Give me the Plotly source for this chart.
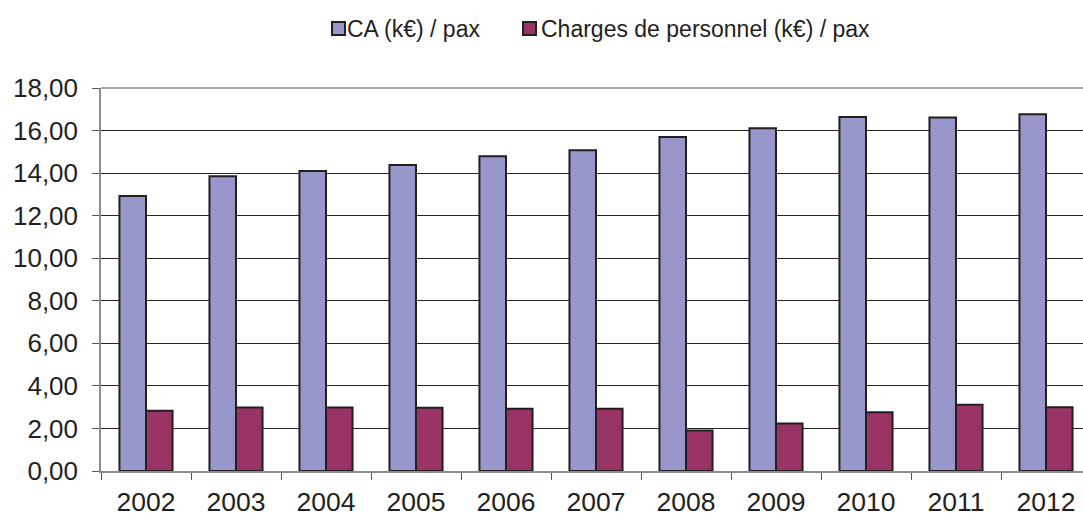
import plotly.graph_objects as go

years = ["2002", "2003", "2004", "2005", "2006", "2007", "2008", "2009", "2010", "2011", "2012"]
ca_per_pax = [12.93, 13.85, 14.10, 14.38, 14.79, 15.07, 15.70, 16.11, 16.64, 16.61, 16.77]
charges_per_pax = [2.83, 2.98, 2.98, 2.97, 2.92, 2.92, 1.90, 2.23, 2.76, 3.11, 3.00]
series_names = ["CA (k€) / pax", "Charges de personnel (k€) / pax"]
y_ticks = [0, 2, 4, 6, 8, 10, 12, 14, 16, 18]

W, H = 1083, 516
L, T, SB = 101, 88, 471
B = H - SB
plot_w = W - L
plot_h = SB - T
cat_px = 90.0

col_ca = "#9797CB"
col_ch = "#993366"
dark = "#231F20"
font = "Liberation Sans, Arial, sans-serif"

fig = go.Figure()
fig.add_trace(go.Bar(x=years, y=ca_per_pax, name=series_names[0],
                     marker=dict(color=col_ca, line=dict(color=dark, width=2))))
fig.add_trace(go.Bar(x=years, y=charges_per_pax, name=series_names[1],
                     marker=dict(color=col_ch, line=dict(color=dark, width=2))))

def px_x(p):
    return (p - L) / plot_w

def px_y(p):
    return (SB - p) / plot_h

shapes = []
annotations = []
# top border line at 18
shapes.append(dict(type="line", xref="paper", yref="paper", x0=0, x1=1, y0=1, y1=1,
                   line=dict(color="#A8A8A8", width=2), layer="above"))
# manual legend
legend_items = [(332, 345, col_ca, series_names[0]), (523, 539, col_ch, series_names[1])]
for sq_x, tx, col, name in legend_items:
    shapes.append(dict(type="rect", xref="paper", yref="paper",
                       x0=px_x(sq_x), x1=px_x(sq_x + 13), y0=px_y(35), y1=px_y(22),
                       fillcolor=col, line=dict(color=dark, width=2)))
    annotations.append(dict(text=name, xref="paper", yref="paper", x=px_x(tx), y=px_y(29),
                            xanchor="left", yanchor="middle", showarrow=False,
                            font=dict(family=font, size=23, color=dark)))

fig.update_layout(
    width=W, height=H,
    margin=dict(l=L, r=0, t=T, b=B, pad=0),
    paper_bgcolor="white", plot_bgcolor="white",
    barmode="group", bargap=0.41, bargroupgap=0,
    showlegend=False,
    separators=", ",
    shapes=shapes, annotations=annotations,
    font=dict(family=font, color=dark),
)
fig.update_xaxes(
    type="category",
    range=[-0.5, -0.5 + plot_w / cat_px],
    showline=True, linecolor="#8C8C8C", linewidth=1.5,
    ticks="outside", tickson="boundaries", ticklen=7, tickcolor="#555555", tickwidth=1,
    tickfont=dict(family=font, size=26.5, color=dark),
    showgrid=False, zeroline=False, automargin=False,
    ticklabelstandoff=6,
)
fig.update_yaxes(
    range=[0, 18], tickvals=y_ticks, tickformat=".2f",
    showline=True, linecolor="#8C8C8C", linewidth=1.5,
    ticks="outside", ticklen=7, tickcolor="#555555", tickwidth=1,
    tickfont=dict(family=font, size=26, color=dark),
    showgrid=True, gridcolor="#262626", gridwidth=1,
    zeroline=False, automargin=False,
    ticklabelstandoff=9,
)

fig.write_html("out.html",
               config={"displayModeBar": False},
               post_script="document.body.style.margin='0';document.body.style.overflow='hidden';")
